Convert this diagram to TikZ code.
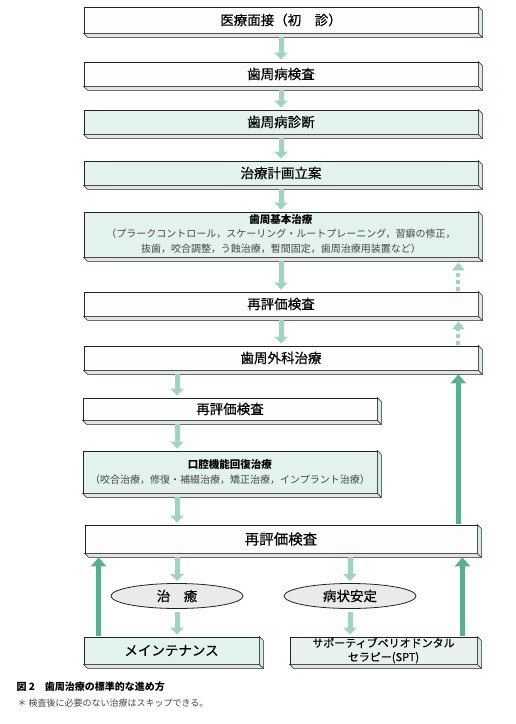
\documentclass[tikz,border=0pt]{standalone}
\usepackage{fontspec}
\setmainfont{Noto Sans CJK JP}
\newfontfamily\boxfont{Noto Sans CJK JP}[FakeBold = 0.4]
\usetikzlibrary{arrows.meta}
\usetikzlibrary{positioning}
\usetikzlibrary{shapes.geometric}
\definecolor{edge}{RGB}{35,35,35}
\definecolor{paper}{RGB}{252,253,252}
\definecolor{mint}{RGB}{226,242,236}
\definecolor{fog}{RGB}{234,234,234}
\definecolor{sptfill}{RGB}{233,241,236}
\definecolor{sidegreen}{RGB}{214,236,228}
\definecolor{sidegrey}{RGB}{226,228,227}
\definecolor{lightflow}{RGB}{157,214,192}
\definecolor{darkflow}{RGB}{88,176,140}
\definecolor{subtext}{RGB}{70,70,70}
\tikzset{slab/.style = {draw = edge, line width = 0.8pt, fill = paper, inner sep = 0,
                        minimum height = 24pt, align = center,
                        font = \boxfont\fontsize{13.5}{15}\selectfont}}
\tikzset{greenslab/.style = {slab, fill = mint}}
\tikzset{oval/.style = {ellipse, draw = edge, line width = 0.8pt, fill = fog, inner sep = 0,
                        minimum width = 132pt, minimum height = 25pt,
                        font = \boxfont\fontsize{13.5}{15}\selectfont}}
\tikzset{bottomface/.style = {draw = edge, line width = 0.6pt, fill = sidegrey}}
\tikzset{sideface/.style = {draw = edge, line width = 0.6pt, fill = sidegreen}}
\tikzset{flow/.style = {draw = lightflow, line width = 5pt,
                        -{Triangle[width = 13pt, length = 7pt]},
                        shorten < = 4pt, shorten > = 2pt}}
\tikzset{upflow/.style = {draw = darkflow, line width = 5pt,
                          -{Triangle[width = 15pt, length = 9pt]},
                          shorten < = 1pt, shorten > = 4pt}}
\tikzset{dotflow/.style = {draw = lightflow, line width = 4pt, dash pattern = on 4pt off 3pt,
                           -{Triangle[width = 12pt, length = 8pt]},
                           shorten < = 1pt, shorten > = 5pt}}
\newcommand{\detailtext}{\rmfamily\fontsize{10}{13.5}\selectfont}
\newcommand{\titletext}{\rmfamily\bfseries\fontsize{10.5}{13.5}\selectfont}

\begin{document}
\begin{tikzpicture}[x = 1pt, y = -1pt]
    \useasboundingbox [fill = white] (0, 0) rectangle (516, 724);
    % main column
    \node [slab, minimum width = 394pt, minimum height = 26pt] (interview) at (281, 20) {医療面接（初　診）};
    \node [slab, minimum width = 394pt] (perioexam) at (281, 74) {歯周病検査};
    \node [greenslab, minimum width = 394pt] (diagnosis) at (281, 122) {歯周病診断};
    \node [greenslab, minimum width = 394pt] (plan) at (281, 173) {治療計画立案};
    \node [greenslab, minimum width = 394pt, minimum height = 45pt] (initial) at (281, 234.5)
        {{\titletext 歯周基本治療}\\[-1pt]{\detailtext\color{subtext}（プラークコントロール，スケーリング・ルートプレーニング，習癖の修正，}\\{\detailtext\color{subtext}抜歯，咬合調整，う蝕治療，暫間固定，歯周治療用装置など）}};
    \node [slab, minimum width = 394pt] (reeval1) at (281, 304) {再評価検査};
    \node [slab, minimum width = 394pt] (surgery) at (281, 358) {歯周外科治療};
    % left column
    \node [slab, minimum width = 294pt, minimum height = 22pt] (reeval2) at (230, 409) {再評価検査};
    \node [greenslab, minimum width = 294pt, minimum height = 42pt] (restore) at (230, 472)
        {{\titletext 口腔機能回復治療}\\{\detailtext\color{subtext}（咬合治療，修復・補綴治療，矯正治療，インプラント治療）}};
    \node [slab, minimum width = 392pt, minimum height = 28pt, font = \boxfont\fontsize{14.5}{16}\selectfont] (reeval3) at (281, 539) {再評価検査};
    % outcome
    \node [oval] (healed) at (177, 596) {治　癒};
    \node [oval] (stable) at (350, 596) {病状安定};
    \node [greenslab, minimum width = 175pt, minimum height = 27pt] (maint) at (171.5, 650.5) {メインテナンス};
    \node [slab, fill = sptfill, minimum width = 187pt, minimum height = 27pt,
           font = \boxfont\fontsize{11}{14}\selectfont] (spt) at (383.5, 650.5) {サポーティブペリオドンタル\\セラピー(SPT)};
    % depth of the slabs
    \foreach \n in {interview, perioexam, diagnosis, plan, initial, reeval1, surgery,
                    reeval2, restore, reeval3, maint, spt} {
        \filldraw [bottomface] (\n.south west) -- ++(4pt, -4pt) -- ([shift = {(4pt, -4pt)}]\n.south east) -- (\n.south east) -- cycle;
        \filldraw [sideface] (\n.south east) -- ([shift = {(4pt, -4pt)}]\n.south east) -- ([shift = {(4pt, -4pt)}]\n.north east) -- (\n.north east) -- cycle;
    }
    % downward flow
    \draw [flow] (interview) -- (perioexam);
    \draw [flow] (perioexam) -- (diagnosis);
    \draw [flow] (diagnosis) -- (plan);
    \draw [flow] (plan) -- (initial);
    \draw [flow] (initial) -- (reeval1);
    \draw [flow] (reeval1) -- (surgery);
    \draw [flow] (surgery.south -| healed) -- (reeval2.north -| healed);
    \draw [flow] (reeval2.south -| healed) -- (restore.north -| healed);
    \draw [flow] (restore.south -| healed) -- (reeval3.north -| healed);
    \draw [flow] (reeval3.south -| healed) -- (healed.north);
    \draw [flow] (reeval3.south -| stable) -- (stable.north);
    \draw [flow, shorten < = 3pt] (healed.south) -- (maint.north -| healed);
    \draw [flow, shorten < = 3pt] (stable.south) -- (spt.north -| stable);
    % return paths
    \coordinate (maintup) at ([xshift = 15pt] maint.north west);
    \coordinate (sptup) at ([xshift = -15pt] spt.north east);
    \coordinate (backup) at ([xshift = -19pt] reeval3.north east);
    \draw [upflow] (maintup) -- (maintup |- reeval3.south);
    \draw [upflow] (sptup) -- (sptup |- reeval3.south);
    \draw [upflow] (backup) -- (backup |- surgery.south);
    \draw [dotflow] (backup |- surgery.north) -- (backup |- reeval1.south);
    \draw [dotflow] (backup |- reeval1.north) -- (backup |- initial.south);
    % caption
    \node [anchor = west, font = \bfseries\fontsize{10}{12}\selectfont] (title) at (13, 687) {図 2　歯周治療の標準的な進め方};
    \node [anchor = west, font = \fontsize{9}{11}\selectfont, text = subtext] (note) at (14, 703) {＊ 検査後に必要のない治療はスキップできる。};
\end{tikzpicture}
\end{document}
